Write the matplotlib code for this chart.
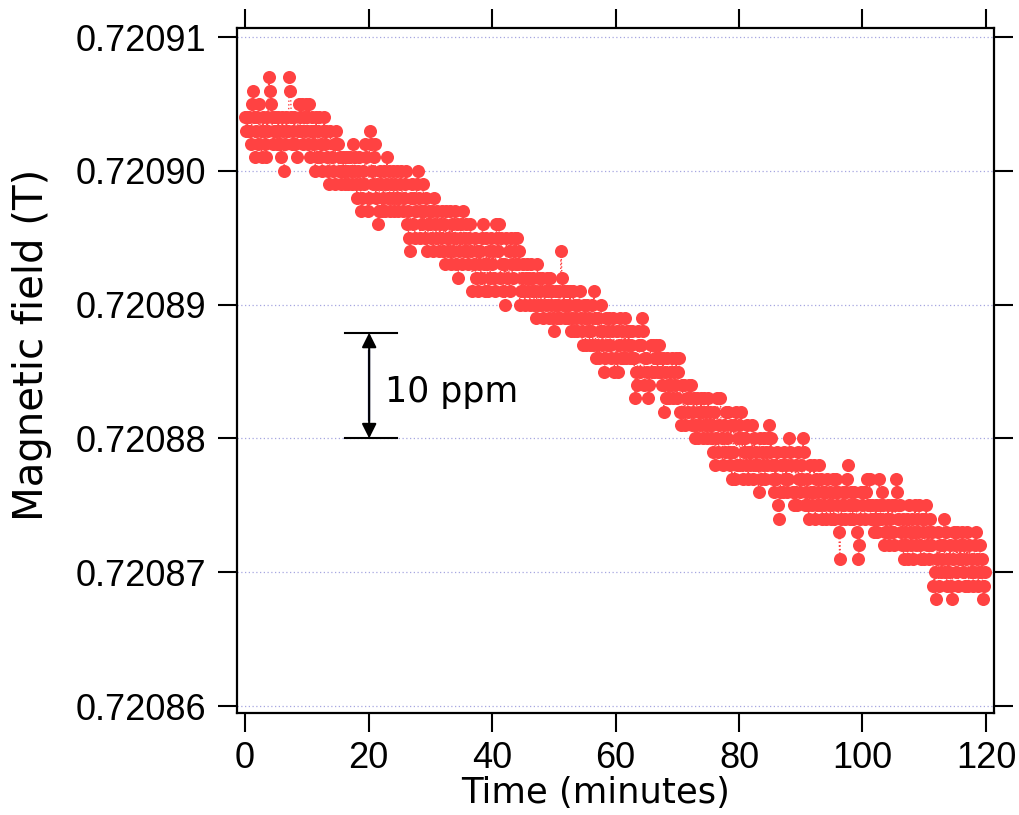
import numpy as np
import matplotlib.pyplot as plt
from matplotlib.ticker import FormatStrFormatter, MultipleLocator

plt.rcParams['font.family'] = ['Liberation Sans', 'DejaVu Sans']

# Magnetometer readings, one every 10 s, as uT above 0.72086 T
field_0_20 = [
    44, 43, 44, 43, 44, 43, 42, 45, 46, 44, 41, 43,
    44, 42, 45, 43, 41, 44, 43, 42, 41, 44, 43, 47,
    46, 45, 44, 42, 43, 44, 43, 42, 44, 43, 42, 41,
    44, 43, 40, 42, 44, 43, 43, 47, 46, 44, 42, 43,
    44, 42, 41, 43, 45, 44, 43, 45, 42, 44, 43, 45,
    44, 42, 45, 41, 43, 44, 42, 43, 40, 44, 41, 43,
    44, 41, 42, 40, 43, 44, 42, 43, 41, 40, 39, 43,
    41, 40, 42, 39, 43, 42, 42, 40, 41, 39, 40, 41,
    40, 39, 41, 40, 39, 41, 41, 40, 39, 42, 40, 41,
    39, 38, 40, 41, 39, 37, 38, 40, 39, 42, 41, 37,
]
field_20_40 = [
    38, 43, 42, 40, 39, 41, 42, 38, 39, 36, 37, 40,
    39, 37, 38, 40, 37, 39, 41, 38, 40, 37, 39, 38,
    40, 37, 39, 38, 40, 37, 38, 39, 40, 37, 38, 39,
    40, 36, 37, 35, 34, 38, 39, 36, 38, 35, 37, 39,
    40, 38, 35, 37, 36, 39, 37, 35, 38, 34, 36, 37,
    36, 35, 37, 34, 38, 36, 35, 37, 34, 36, 35, 37,
    34, 36, 33, 37, 35, 34, 35, 37, 33, 36, 34, 35,
    37, 33, 36, 32, 34, 35, 36, 33, 37, 34, 35, 36,
    34, 33, 35, 36, 34, 31, 33, 35, 32, 34, 31, 33,
    34, 32, 35, 36, 33, 31, 35, 33, 31, 34, 32, 35,
]
field_40_60 = [
    33, 34, 32, 31, 36, 35, 34, 36, 32, 35, 33, 31,
    33, 30, 35, 32, 34, 31, 35, 33, 32, 34, 35, 33,
    35, 33, 34, 30, 31, 32, 33, 31, 30, 32, 33, 31,
    32, 30, 33, 31, 32, 30, 31, 29, 33, 30, 32, 31,
    30, 32, 29, 31, 30, 32, 31, 29, 32, 30, 31, 29,
    28, 30, 31, 29, 30, 31, 29, 34, 32, 30, 31, 29,
    30, 31, 29, 30, 31, 28, 29, 31, 28, 30, 29, 28,
    30, 31, 29, 28, 27, 30, 29, 27, 30, 28, 29, 27,
    28, 30, 27, 31, 29, 26, 27, 29, 26, 28, 30, 27,
    28, 25, 26, 29, 27, 28, 29, 27, 26, 28, 29, 25,
]
field_60_80 = [
    26, 28, 25, 27, 29, 26, 28, 26, 27, 29, 26, 28,
    27, 28, 26, 27, 28, 26, 26, 23, 25, 24, 28, 27,
    25, 27, 29, 28, 24, 26, 26, 25, 23, 24, 27, 25,
    27, 25, 26, 27, 26, 25, 27, 26, 25, 24, 26, 22,
    25, 23, 26, 24, 23, 25, 24, 26, 23, 25, 24, 26,
    23, 25, 26, 22, 21, 24, 22, 24, 21, 23, 22, 24,
    23, 24, 21, 22, 23, 20, 21, 23, 20, 22, 21, 23,
    22, 20, 23, 21, 22, 20, 23, 21, 22, 20, 21, 19,
    22, 18, 20, 23, 19, 21, 23, 20, 18, 21, 19, 22,
    20, 22, 19, 18, 21, 17, 19, 21, 17, 22, 18, 20,
]
field_80_100 = [
    21, 18, 22, 20, 17, 19, 20, 18, 21, 17, 19, 18,
    19, 21, 17, 20, 18, 19, 18, 16, 20, 17, 19, 18,
    20, 17, 19, 18, 20, 21, 19, 20, 18, 17, 16, 18,
    17, 19, 15, 14, 16, 18, 18, 16, 19, 17, 18, 16,
    17, 20, 19, 18, 16, 15, 16, 18, 15, 19, 17, 16,
    18, 17, 20, 19, 15, 16, 17, 15, 14, 18, 16, 15,
    16, 18, 14, 17, 15, 16, 18, 15, 17, 14, 16, 15,
    16, 14, 17, 15, 16, 14, 15, 17, 14, 16, 17, 15,
    16, 13, 11, 14, 15, 16, 15, 14, 16, 17, 18, 15,
    14, 16, 15, 14, 16, 15, 15, 13, 11, 12, 14, 16,
]
field_100_120 = [
    15, 16, 14, 16, 17, 15, 15, 17, 14, 15, 14, 13,
    14, 15, 13, 14, 17, 15, 14, 16, 15, 12, 13, 14,
    13, 15, 12, 14, 13, 15, 13, 12, 15, 17, 16, 14,
    15, 13, 12, 14, 11, 13, 12, 14, 11, 15, 13, 12,
    14, 11, 13, 15, 12, 14, 13, 15, 12, 11, 14, 13,
    11, 14, 15, 12, 13, 11, 14, 12, 13, 9, 10, 8,
    11, 13, 9, 12, 10, 11, 12, 14, 10, 13, 9, 11,
    10, 12, 9, 8, 11, 13, 12, 10, 13, 9, 11, 12,
    11, 13, 10, 12, 9, 11, 13, 9, 12, 10, 11, 9,
    10, 12, 13, 11, 9, 10, 12, 10, 11, 8, 9, 10,
]

base_field = 0.72086      # T
level_step = 1e-6         # T per uT
sample_min = 1 / 6        # minutes between readings

levels = np.array(field_0_20 + field_20_40 + field_40_60 +
                  field_60_80 + field_80_100 + field_100_120)
field = base_field + levels * level_step
time = np.arange(len(levels)) * sample_min

# 10 ppm scale bar
bar_x = (16.2, 24.6)
bar_arrow_x = 20.1
bar_low = 0.72088
bar_high = 0.7208879

fig = plt.figure(figsize=(10.2, 8.15), dpi=100)
ax = fig.add_axes([0.2324, 0.1252, 0.7421, 0.8404])

ax.plot(time, field, linestyle=':', linewidth=1.0, color='#ff4242',
        marker='o', markersize=9.4, markeredgewidth=0, zorder=3)

ax.set_xlim(-1.3, 121.3)
ax.set_ylim(0.72085948, 0.72091067)
ax.xaxis.set_major_locator(MultipleLocator(20))
ax.yaxis.set_major_locator(MultipleLocator(0.00001))
ax.yaxis.set_major_formatter(FormatStrFormatter('%.5f'))

ax.grid(axis='y', linestyle=(0, (1, 2)), color='#a6a6e0', linewidth=0.9)
ax.set_axisbelow(True)

for side in ax.spines.values():
    side.set_linewidth(1.6)
ax.tick_params(axis='both', direction='out', length=14, width=1.5,
               labelsize=26, top=True, right=True,
               labeltop=False, labelright=False)
ax.tick_params(axis='x', pad=6)
ax.tick_params(axis='y', pad=8)

ax.set_xlabel('Time (minutes)', fontsize=25.5, family=['DejaVu Sans'])
ax.set_ylabel('Magnetic field (T)', fontsize=29, family=['DejaVu Sans'])
ax.xaxis.set_label_coords(0.474, -0.092)
ax.yaxis.set_label_coords(-0.244, 0.537)

ax.plot(bar_x, [bar_low, bar_low], color='black', lw=1.5)
ax.plot(bar_x, [bar_high, bar_high], color='black', lw=1.5)
ax.annotate('', xy=(bar_arrow_x, bar_high), xytext=(bar_arrow_x, bar_low),
            arrowprops=dict(arrowstyle='<|-|>', color='black', lw=1.5,
                            mutation_scale=22, shrinkA=0, shrinkB=0))
ax.plot([bar_arrow_x, bar_arrow_x], [bar_low + 1.4e-6, bar_high - 1.4e-6],
        color='#1c2a7a', lw=1.6)
ax.text(22.6, 0.7208835, '10 ppm', fontsize=25, family=['DejaVu Sans'],
        va='center', ha='left')

fig.savefig('out.png', dpi=100)
